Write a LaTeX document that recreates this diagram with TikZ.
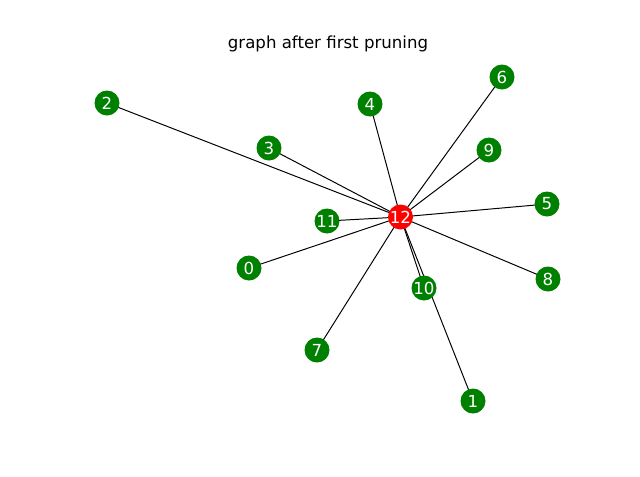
\documentclass[tikz,border=0pt]{standalone}
\usepackage{fontspec}
\setmainfont{DejaVu Sans}
\usepackage{tikz}
\usetikzlibrary{positioning,backgrounds}

\definecolor{leafgreen}{RGB}{0,128,0}
\definecolor{hubred}{RGB}{255,0,0}

\tikzset{
  vertex/.style={circle,fill=leafgreen,text=white,inner sep=0pt,minimum size=25\unitlength,font=\fontsize{11.8}{12}\selectfont},
  hub/.style={vertex,fill=hubred},
  edge/.style={black,line width=0.7pt}
}

\begin{document}
\setlength{\unitlength}{0.025cm}
\begin{tikzpicture}[x=0.025cm,y=-0.025cm]
\useasboundingbox (0,0) rectangle (640,476);

% Title
\node[font=\fontsize{11.8}{12}\selectfont] (title) at (328,44) {graph after first pruning};

% Centre node
\node[hub] (n12) at (400.5,217) {12};

% Leaf nodes
\foreach \n/\x/\y in {2/107/103, 3/269/148, 4/370/104, 6/502/77, 9/489/150,
    5/547/204, 11/327/221, 0/249/268, 10/424/288, 8/548/279, 7/317/350, 1/473/401}
    \node[vertex] (n\n) at (\x,\y) {\n};

% Edges from the centre
\begin{scope}[on background layer]
\foreach \n in {0,1,2,3,4,5,6,7,8,9,10,11}
    \draw[edge] (n12.center) -- (n\n.center);
\end{scope}
\end{tikzpicture}
\end{document}
